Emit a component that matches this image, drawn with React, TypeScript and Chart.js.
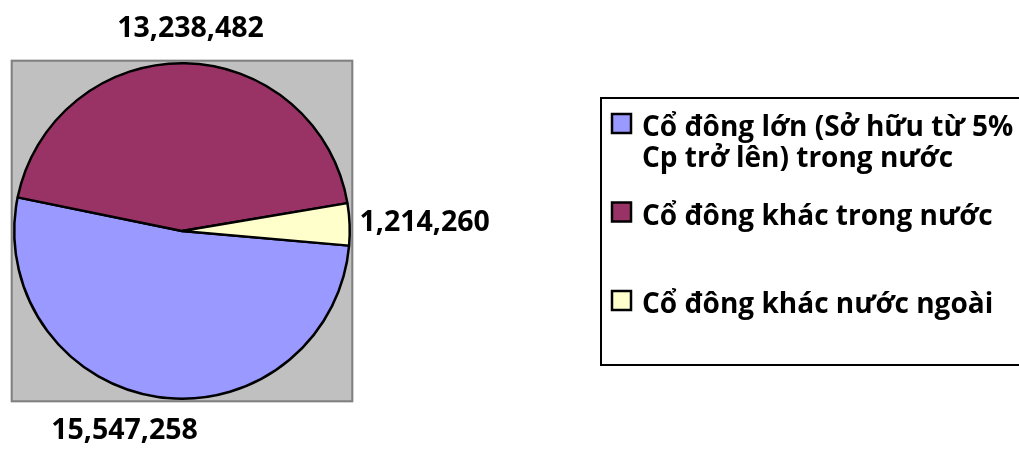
import React, { useEffect, useRef } from "react";
import { Chart, registerables } from "chart.js";

Chart.register(...registerables);

// ---- data ----
const categories: string[][] = [
  ["Cổ đông lớn (Sở hữu từ 5%", "Cp trở lên) trong nước"],
  ["Cổ đông khác trong nước"],
  ["Cổ đông khác nước ngoài"],
];
const shares: number[] = [15547258, 13238482, 1214260];
const sliceColors: string[] = ["#9999FF", "#993366", "#FFFFCC"];

const FONT = "'Open Sans', 'Noto Sans', sans-serif";

const fmt = (v: number) => v.toLocaleString("en-US");

const plotBgPlugin = {
  id: "plotBg",
  beforeDatasetsDraw(chart: any) {
    const arc = chart.getDatasetMeta(0).data[0];
    if (!arc) return;
    const { x, y, outerRadius } = arc.getProps(["x", "y", "outerRadius"], true);
    const ctx = chart.ctx;
    const h = outerRadius + 2.5;
    ctx.save();
    ctx.fillStyle = "#C0C0C0";
    ctx.fillRect(x - h - 1, y - h - 1, 2 * h + 2, 2 * h + 2);
    ctx.strokeStyle = "#808080";
    ctx.lineWidth = 2;
    ctx.strokeRect(x - h, y - h, 2 * h, 2 * h);
    ctx.restore();
  },
};

const valueLabelPlugin = {
  id: "valueLabels",
  afterDatasetsDraw(chart: any, _args: any, opts: any) {
    const ctx = chart.ctx;
    const meta = chart.getDatasetMeta(0);
    const values = chart.data.datasets[0].data as number[];
    ctx.save();
    ctx.font = `bold ${opts.size}px ${FONT}`;
    ctx.fillStyle = "#000";
    ctx.textAlign = "center";
    ctx.textBaseline = "middle";
    meta.data.forEach((arc: any, i: number) => {
      const { x, y, startAngle, endAngle, outerRadius } = arc.getProps(
        ["x", "y", "startAngle", "endAngle", "outerRadius"],
        true
      );
      const a = (startAngle + endAngle) / 2;
      const ca = Math.cos(a);
      const sa = Math.sin(a);
      const text = fmt(values[i]);
      const w = ctx.measureText(text).width;
      const hh = opts.size * 0.55;
      const r = outerRadius + opts.gap;
      const nudge = opts.nudges[i] || [0, 0];
      const lx = x + r * ca + ca * (w / 2) + nudge[0];
      const ly = y + r * sa + sa * hh + nudge[1];
      ctx.fillText(text, lx, ly);
    });
    ctx.restore();
  },
};

const boxLegendPlugin = {
  id: "boxLegend",
  afterDraw(chart: any, _args: any, opts: any) {
    const ctx = chart.ctx;
    const labels = chart.data.labels as string[][];
    const colors = chart.data.datasets[0].backgroundColor as string[];
    ctx.save();
    ctx.strokeStyle = "#000";
    ctx.lineWidth = 2;
    ctx.strokeRect(opts.left, opts.top, opts.width, opts.height);
    ctx.font = `bold ${opts.size}px ${FONT}`;
    ctx.textAlign = "left";
    ctx.textBaseline = "alphabetic";
    labels.forEach((lines, i) => {
      const base = opts.firstBaseline + i * opts.itemStep;
      ctx.fillStyle = colors[i];
      ctx.fillRect(opts.left + 11, base - 22, 19, 19);
      ctx.strokeStyle = "#000";
      ctx.lineWidth = 2.5;
      ctx.strokeRect(opts.left + 11, base - 22, 19, 19);
      ctx.fillStyle = "#000";
      lines.forEach((ln, j) => {
        ctx.fillText(ln, opts.left + 41, base + j * opts.lineStep);
      });
    });
    ctx.restore();
  },
};

export default function App() {
  const ref = useRef<HTMLCanvasElement>(null);
  useEffect(() => {
    if (!ref.current) return;
    const chart = new Chart(ref.current, {
      type: "pie",
      data: {
        labels: categories as any,
        datasets: [
          {
            data: shares,
            backgroundColor: sliceColors,
            borderColor: "#000000",
            borderWidth: 2.5,
          },
        ],
      },
      options: {
        responsive: false,
        animation: false,
        rotation: 95,
        layout: { padding: { left: 13, top: 62, right: 668, bottom: 50 } },
        plugins: {
          legend: { display: false },
          tooltip: { enabled: false },
          valueLabels: { size: 28.5, gap: 19, nudges: [[-20, 0], [4, 0], [-9, 0]] },
          boxLegend: {
            left: 601,
            top: 98,
            width: 440,
            height: 267,
            size: 28,
            firstBaseline: 136,
            itemStep: 88.5,
            lineStep: 31,
          },
        } as any,
      },
      plugins: [plotBgPlugin, valueLabelPlugin, boxLegendPlugin],
    });
    return () => chart.destroy();
  }, []);
  return (
    <div style={{ position: "absolute", left: 0, top: 0, width: 1019, height: 450, background: "#fff" }}>
      <canvas ref={ref} width={1019} height={450} style={{ display: "block" }} />
    </div>
  );
}
